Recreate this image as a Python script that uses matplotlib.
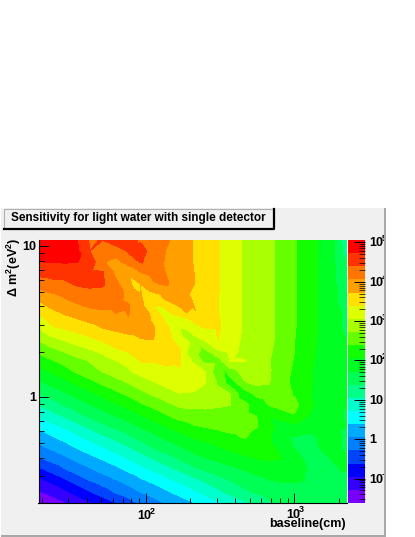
import numpy as np
import matplotlib
matplotlib.use('Agg')
import matplotlib.pyplot as plt
import matplotlib.tri as mtri
from matplotlib.colors import ListedColormap, BoundaryNorm
from matplotlib.patches import Rectangle
from matplotlib.ticker import LogLocator, NullFormatter
from matplotlib.transforms import Bbox

plt.rcParams['font.family'] = ['Liberation Sans', 'DejaVu Sans']
plt.rcParams['mathtext.fontset'] = 'custom'
plt.rcParams['mathtext.bf'] = 'Liberation Sans:bold'
plt.rcParams['mathtext.rm'] = 'Liberation Sans:bold'

W, H = 415, 537

# colour bands of the z axis, bottom to top
palette = ['#7700ff', '#3300ff', '#0000ff', '#0044ff', '#0080ff',
           '#00aaff', '#00ffff', '#00ffcc', '#00ff88', '#00ff55',
           '#00ff22', '#11ff00', '#66ff00', '#aaff00', '#ddff00',
           '#ffe000', '#ffa000', '#ff7700', '#ff3300', '#ff0000']
log_z_min, log_z_max = -1.62, 5.06

baseline = [19, 23.3, 28.6, 34.3, 42, 51.3, 62.8, 76.9, 92.5, 113, 138, 169, 207,
            249, 305, 373, 457, 559, 672, 822, 1007, 1232, 1508, 1811, 2240]
dm2 = [11.0, 9.3, 7.9, 6.7, 5.6, 4.8, 4.0, 3.4, 2.9, 2.4, 2.06, 1.74, 1.47,
       1.24, 1.05, 0.89, 0.75, 0.64, 0.55, 0.46, 0.39, 0.33, 0.28, 0.235, 0.2]

# position on the colour scale (band number plus fraction),
# one row per dm2 value, one column per baseline value
scale = [
    [19.7,19.6,19.4,19.05,17.9,18.05,18.6,18.3,17.9,17.5,17.1,16.65,16,15.55,15.07,14.45,13.9,13.5,13.2,12.7,12.05,11.45,10.85,10.15,8],
    [19.4,19.35,19.3,19.2,18,16.95,17.5,18.15,18.3,17.6,16.95,16.55,16,15.55,15.07,14.45,13.9,13.5,13.2,12.7,12.05,11.45,10.85,10.15,8.5],
    [19,19.05,19.1,19.05,18.6,17.1,16.7,17.5,18.1,17.5,16.85,16.5,16,15.55,15.07,14.45,13.9,13.5,13.2,12.7,12.05,11.45,10.85,10.15,9],
    [18.3,18.4,18.4,18.35,18.2,18.1,16.8,16.2,17,17.4,16.95,16.5,16.05,15.55,15.07,14.45,13.9,13.5,13.2,12.7,12.05,11.45,10.85,10.15,9.3],
    [17.5,17.7,17.8,18.1,18.2,18.15,17.2,16.3,16,16.9,17.1,16.4,16.05,15.55,15.07,14.45,13.9,13.5,13.2,12.7,12.05,11.45,10.85,10.15,9.5],
    [16.5,16.9,17.2,17.5,17.7,17.6,17.3,16.8,16.1,15.8,16.2,16.25,15.9,15.5,15.05,14.45,13.9,13.5,13.2,12.7,12.05,11.45,10.85,10.15,9.7],
    [15.6,16.2,16.6,16.85,17.1,17.2,17.2,17.05,16.3,15,15.3,16.05,16.05,15.5,15.05,14.45,13.9,13.5,13.2,12.7,12.05,11.45,10.85,10.15,9.8],
    [14.85,15.3,15.85,16.1,16.4,16.6,16.9,17,16.5,15.8,14.5,14.95,15.3,15.4,15.05,14.45,13.9,13.5,13.2,12.7,12.05,11.45,10.85,10.15,9.9],
    [14,14.9,15.15,15.4,15.7,16.05,16.3,16.5,16.5,16.05,15.2,14,14.6,15.05,15.15,14.5,13.9,13.5,13.2,12.7,12.05,11.45,10.85,10.15,9.9],
    [13.1,13.7,14.1,14.5,14.8,15.15,15.4,15.65,15.95,16,15.5,14.4,13.6,14.1,15,14.45,13.8,13.5,13.2,12.7,12,11.4,10.8,10.15,10],
    [12.2,12.8,13.2,13.6,13.95,14.3,14.9,15.2,15.4,15.5,15.5,15.1,13.2,12.9,14,14.45,13.7,13.5,13.15,12.6,12,11.35,10.75,10.1,10],
    [11.5,11.9,12.35,12.7,13.05,13.55,13.95,14.3,15.05,15.05,15.2,15.1,13.9,12.7,12.6,14.1,14.05,13.5,13.05,12.5,11.9,11.3,10.7,10.1,10],
    [10.6,11.1,11.6,12.1,12.6,13,13.4,13.85,14.3,14.6,14.8,14.95,14.4,14.05,12.2,12.6,13.3,13.4,13.1,12.4,11.8,11.2,10.6,10.1,10],
    [9.8,10.25,10.7,11.15,11.65,12.15,12.6,13.05,13.5,13.9,14.3,14.5,14.4,14.05,12.9,11.4,12.9,13.2,13.05,12.4,11.7,11.2,10.6,10.1,10],
    [9,9.45,9.85,10.3,10.75,11.25,11.75,12.2,12.7,13.15,13.55,13.95,13.9,13.6,13.3,13,11.3,12.3,12.6,12.5,11.9,11.1,10.6,10.2,10],
    [8,8.55,9.1,9.5,9.95,10.4,10.85,11.35,11.85,12.3,12.75,13.2,13.3,13.25,13.15,13,12.4,11.3,12.05,12.4,12.3,11.2,10.7,10.3,10],
    [7.1,7.6,8.1,8.65,9.15,9.6,10,10.45,10.9,11.4,11.9,12.4,12.5,12.6,12.6,12.4,12.3,12,11.1,11.5,11.9,11,10.6,10.2,9.9],
    [6.2,6.7,7.15,7.65,8.2,8.75,9.2,9.65,10.1,10.55,11,11.5,11.9,12.05,12.2,12.3,12.3,12.05,11.3,10.4,10.7,10.4,10.3,10.2,10],
    [5.5,5.95,6.4,6.85,7.35,7.85,8.35,8.9,9.35,9.8,10.25,10.7,11.1,11.3,11.6,11.85,12.1,11.7,11.1,10.4,10,9.8,10.1,10.3,9.8],
    [4.7,5.15,5.55,6,6.45,6.9,7.4,7.9,8.45,9,9.45,9.85,10.3,10.6,10.9,11.2,11.35,11.35,11.2,10.8,9.95,9.7,10.05,10.3,9.8],
    [3.8,4.3,4.75,5.2,5.65,6.05,6.5,7,7.5,8,8.55,9.05,9.6,9.9,10.2,10.5,10.8,11,11.1,11,10.7,9.6,9.7,10.05,10.2],
    [2.7,3.3,3.9,4.4,4.85,5.3,5.7,6.15,6.6,7.1,7.6,8.1,8.7,9.05,9.4,9.7,10,10.3,10.45,10.5,10.5,9.95,9.7,9.9,10.1],
    [1.7,2.2,2.8,3.4,4,4.45,4.9,5.35,5.8,6.2,6.7,7.15,7.65,8.1,8.6,9,9.35,9.7,9.95,10.1,10.15,9.95,9.5,9.4,9.6],
    [0.85,1.3,1.77,2.3,2.9,3.5,4.08,4.55,5,5.43,5.86,6.3,6.77,7.25,7.75,8.27,8.8,9.1,9.3,9.4,9.4,9.4,9.3,9.2,9.2],
    [0,0.46,0.92,1.38,1.85,2.4,3,3.6,4.15,4.6,5.07,5.5,5.93,6.4,6.85,7.3,7.8,8.5,8.9,9.05,9.1,9.1,9.1,9.05,9],
]

# extra readings along the narrow tongue and the long valley the grid misses
extra_baseline = [68.9, 78, 87, 98.5, 95.5, 134.2, 188.8, 224.2, 126.2, 154.4, 185.8, 227.3,
                  278, 340, 416, 509, 622, 761, 931, 1121, 1372]
extra_dm2 = [7.18, 6.36, 5.46, 4.61, 4.41, 4.48, 3.62, 3.51, 3.78, 3.15, 2.67, 2.25,
             1.88, 1.49, 1.15, 0.974, 0.811, 0.676, 0.554, 0.461, 0.373]
extra_scale = [16.2, 16, 15.5, 15.2, 16, 16, 16, 15.95, 14.6, 14.2, 13.5, 13,
               12.6, 11.9, 11.4, 11.3, 11.2, 10.6, 10, 9.4, 9.5]

cbar_ticks = [0.1, 1, 10, 1e2, 1e3, 1e4, 1e5]
cbar_labels = [('10', '-1'), ('1', ''), ('10', ''), ('10', '2'), ('10', '3'), ('10', '4'), ('10', '5')]


def ax_rect(x0, y0, x1, y1):
    # pixel box (y from the top) to figure fractions
    return [x0 / W, 1 - y1 / H, (x1 - x0) / W, (y1 - y0) / H]


def fx(x):
    return x / W


def fy(y):
    return 1 - y / H


def power_label(x, y, base, exponent, clip=None):
    # ROOT style: base with a small exponent tucked against it
    out = [fig.text(fx(x), fy(y), base, fontsize=9, fontweight='bold', ha='left', va='center', zorder=5)]
    if exponent:
        out.append(fig.text(fx(x + 12.5), fy(y - 5), exponent, fontsize=6.5, fontweight='bold',
                            ha='left', va='center', zorder=5))
    if clip is not None:
        for t in out:
            t.set_clip_on(True)
            t.set_clip_box(clip)


fig = plt.figure(figsize=(W / 100, H / 100), dpi=100, facecolor='white')

# grey canvas
fig.add_artist(Rectangle((fx(1), fy(535)), fx(384) - fx(1), fy(208) - fy(535),
                         transform=fig.transFigure, fc='#f0f0f0', ec='none', zorder=0))
fig.add_artist(Rectangle((fx(384), fy(535)), fx(2), fy(208) - fy(535),
                         transform=fig.transFigure, fc='#a8a8a8', ec='none', zorder=0))
fig.add_artist(Rectangle((fx(1), fy(537)), fx(385), fy(535) - fy(537),
                         transform=fig.transFigure, fc='#a8a8a8', ec='none', zorder=0))

# ── main map ──────────────────────────────────────────────────
edges = np.linspace(log_z_min, log_z_max, len(palette) + 1)
step = edges[1] - edges[0]
cmap = ListedColormap(palette)
norm = BoundaryNorm(edges, cmap.N)

grid_x, grid_y = np.meshgrid(baseline, dm2)
all_x = np.concatenate([grid_x.ravel(), extra_baseline])
all_y = np.concatenate([grid_y.ravel(), extra_dm2])
all_z = log_z_min + np.concatenate([np.array(scale).ravel(), extra_scale]) * step
# triangles are chosen in log space, that is how the plot looks at the points
triangles = mtri.Triangulation(np.log10(all_x), np.log10(all_y)).triangles
tri = mtri.Triangulation(all_x, all_y, triangles=triangles)

ax = fig.add_axes(ax_rect(38.5, 240, 346.5, 503))
ax.set_zorder(3)
ax.set_xscale('log')
ax.set_yscale('log')
ax.tricontourf(tri, all_z, levels=edges, cmap=cmap, norm=norm, extend='both')
ax.set_xlim(baseline[0], baseline[-1])
ax.set_ylim(dm2[-1], dm2[0])
for side in ['top', 'right']:
    ax.spines[side].set_visible(False)
for side in ['left', 'bottom']:
    ax.spines[side].set_linewidth(0.8)
ax.xaxis.set_major_locator(LogLocator(base=10, numticks=10))
ax.xaxis.set_minor_locator(LogLocator(base=10, subs=range(2, 10), numticks=10))
ax.yaxis.set_major_locator(LogLocator(base=10, numticks=10))
ax.yaxis.set_minor_locator(LogLocator(base=10, subs=range(2, 10), numticks=10))
ax.xaxis.set_minor_formatter(NullFormatter())
ax.yaxis.set_minor_formatter(NullFormatter())
ax.xaxis.set_major_formatter(NullFormatter())
ax.yaxis.set_major_formatter(NullFormatter())
ax.tick_params(which='major', direction='in', length=7, width=0.7, top=False, right=False)
ax.tick_params(which='minor', direction='in', length=3.5, width=0.6, top=False, right=False)

# ── colour bar ────────────────────────────────────────────────
cax = fig.add_axes(ax_rect(348, 240, 365, 503))
cax.set_zorder(3)
cax.set_yscale('log')
cax.pcolormesh([0, 1], 10.0 ** edges, np.arange(len(palette)).reshape(-1, 1), cmap=cmap)
cax.set_xlim(0, 1)
cax.set_ylim(10.0 ** log_z_min, 10.0 ** log_z_max)
for s in cax.spines.values():
    s.set_visible(False)
cax.set_xticks([])
cax.yaxis.tick_right()
cax.yaxis.set_major_locator(LogLocator(base=10, numticks=10))
cax.yaxis.set_minor_locator(LogLocator(base=10, subs=range(2, 10), numticks=10))
cax.yaxis.set_minor_formatter(NullFormatter())
cax.yaxis.set_major_formatter(NullFormatter())
cax.tick_params(which='major', direction='in', length=8, width=0.7, left=False, right=True)
cax.tick_params(which='minor', direction='in', length=4, width=0.5, left=False, right=True)

# labels on the bar are cut by the canvas edge
clip = Bbox([[0, 0], [384, H]])
for v, (base, exponent) in zip(cbar_ticks, cbar_labels):
    y_frac = (np.log10(v) - log_z_min) / (log_z_max - log_z_min)
    y_px = 503 - y_frac * 263
    power_label(369, y_px + 1, base, exponent, clip)

# ── axis text ─────────────────────────────────────────────────
power_label(137, 516, '10', '2')
power_label(286, 515, '10', '3')
fig.text(fx(36), fy(247), '10', fontsize=9, fontweight='bold', ha='right', va='center')
fig.text(fx(36), fy(398), '1', fontsize=9, fontweight='bold', ha='right', va='center')
fig.text(fx(346), fy(524), 'baseline(cm)', fontsize=9, fontweight='bold', ha='right', va='center', zorder=6)
fig.text(fx(14), fy(267), r'$\Delta$ m$^{\mathbf{2}}$(eV$^{\mathbf{2}}$)', fontsize=9, fontweight='bold',
         rotation=90, ha='center', va='center')

# title box with the raised border
fig.add_artist(Rectangle((fx(4), fy(228)), fx(270), fy(209) - fy(228), transform=fig.transFigure,
                         fc='#f0f0f0', ec='none', zorder=1))
for xs, ys, col, lw in [([4, 4, 273], [228, 209, 209], '#b0b0b0', 0.8),
                        ([4, 273.5, 273.5], [228.5, 228.5, 209], 'black', 1.6)]:
    fig.add_artist(plt.Line2D([fx(x) for x in xs], [fy(y) for y in ys], transform=fig.transFigure,
                              color=col, lw=lw, zorder=2))
fig.text(fx(11), fy(218), 'Sensitivity for light water with single detector', fontsize=8.45,
         fontweight='bold', ha='left', va='center', zorder=5)

fig.savefig('out.png', dpi=100)
